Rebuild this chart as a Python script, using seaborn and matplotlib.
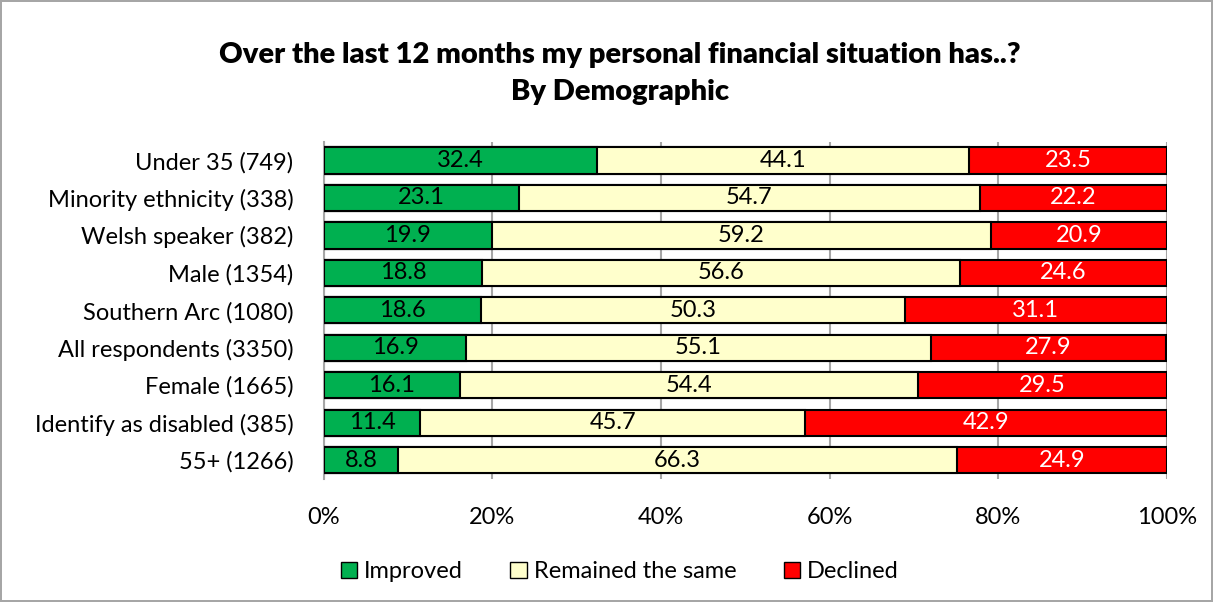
import numpy as np
import pandas as pd
import matplotlib
matplotlib.use("Agg")
import matplotlib.pyplot as plt
import seaborn as sns
from matplotlib.patches import Patch

# data
groups = ["Under 35 (749)", "Minority ethnicity (338)", "Welsh speaker (382)",
          "Male (1354)", "Southern Arc (1080)", "All respondents (3350)",
          "Female (1665)", "Identify as disabled (385)", "55+ (1266)"]
improved = [32.4, 23.1, 19.9, 18.8, 18.6, 16.9, 16.1, 11.4, 8.8]
same = [44.1, 54.7, 59.2, 56.6, 50.3, 55.1, 54.4, 45.7, 66.3]
declined = [23.5, 22.2, 20.9, 24.6, 31.1, 27.9, 29.5, 42.9, 24.9]

c_imp = "#00B050"
c_same = "#FFFFCC"
c_dec = "#FF0000"

df = pd.DataFrame({"group": groups, "imp": improved, "same": same, "dec": declined})
df["c2"] = df["imp"] + df["same"]
df["c3"] = df["c2"] + df["dec"]

sns.set_style("white")
plt.rcParams["font.family"] = ["Lato", "DejaVu Sans"]
plt.rcParams["text.color"] = "black"
plt.rcParams["xtick.color"] = "black"
plt.rcParams["ytick.color"] = "black"

fs = 17

fig = plt.figure(figsize=(12.13, 6.02), dpi=100)
fig.patch.set_edgecolor("#A6A6A6")
fig.patch.set_linewidth(1.5)
ax = fig.add_axes([0.267, 0.2043, 0.695, 0.5603])

# layered cumulative bars -> stacked look
for col, colr in [("c3", c_dec), ("c2", c_same), ("imp", c_imp)]:
    sns.barplot(data=df, x=col, y="group", order=groups, color=colr,
                edgecolor="black", linewidth=1.5, width=0.7, ax=ax,
                saturation=1, zorder=3)

ax.set_xlim(0, 100)
ax.set_ylim(8.5, -0.5)
ax.set_xticks(np.arange(0, 101, 20))
ax.set_xticklabels([f"{v}%" for v in range(0, 101, 20)], fontsize=fs)
ax.tick_params(axis="y", length=0, pad=22, labelsize=fs)
ax.tick_params(axis="x", length=0, pad=20)
ax.set_xlabel("")
ax.set_ylabel("")
ax.grid(axis="x", color="#A6A6A6", linewidth=1.5, zorder=0)
for s in ["top", "right", "bottom"]:
    ax.spines[s].set_visible(False)
ax.spines["left"].set_color("#A6A6A6")
ax.spines["left"].set_linewidth(1.5)
ax.spines["left"].set_zorder(1)

for i in range(len(groups)):
    ax.text(improved[i] / 2, i, f"{improved[i]:.1f}", ha="center", va="center",
            fontsize=fs, color="black", zorder=5)
    ax.text(improved[i] + same[i] / 2, i, f"{same[i]:.1f}", ha="center",
            va="center", fontsize=fs, color="black", zorder=5)
    ax.text(improved[i] + same[i] + declined[i] / 2, i, f"{declined[i]:.1f}",
            ha="center", va="center", fontsize=fs, color="white", zorder=5)

fig.text(0.511, 0.908, "Over the last 12 months my personal financial situation has..?",
         ha="center", va="center", fontsize=21, fontweight="heavy")
fig.text(0.511, 0.847, "By Demographic", ha="center", va="center",
         fontsize=21, fontweight="heavy")

handles = [Patch(facecolor=c_imp, edgecolor="black", label="Improved"),
           Patch(facecolor=c_same, edgecolor="black", label="Remained the same"),
           Patch(facecolor=c_dec, edgecolor="black", label="Declined")]
fig.legend(handles=handles, loc="center", bbox_to_anchor=(0.511, 0.05), ncol=3,
           frameon=False, fontsize=fs, handlelength=0.7, handleheight=0.7,
           handletextpad=0.3, columnspacing=2.0)

fig.savefig("out.png", dpi=100)
